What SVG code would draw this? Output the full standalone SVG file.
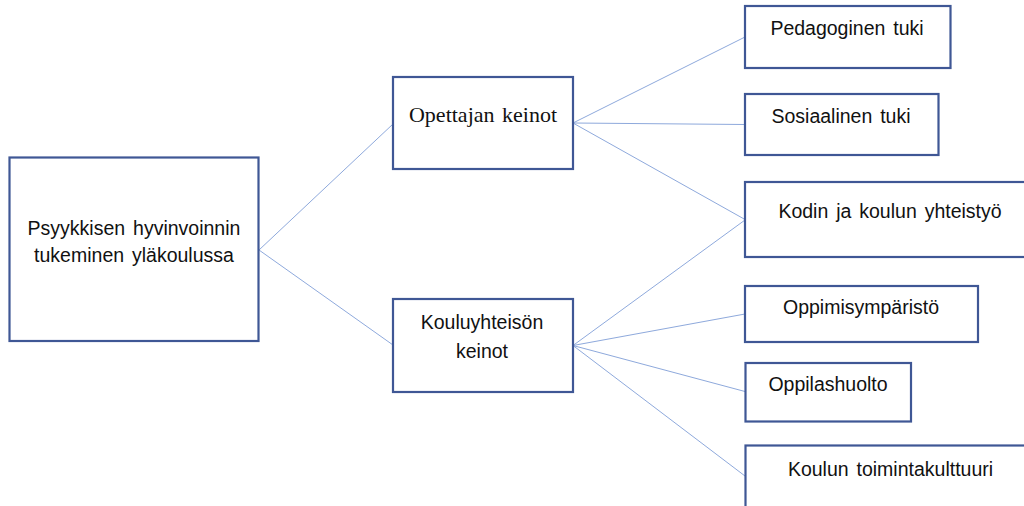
<svg xmlns="http://www.w3.org/2000/svg" width="1024" height="506" viewBox="0 0 1024 506">
<style>
.box{fill:#ffffff;stroke:#3f5795;stroke-width:2.2}
.c{stroke:#8ea9dc;stroke-width:1;fill:none}
.t{font-family:"Liberation Sans",Arial,sans-serif;font-size:19.5px;word-spacing:2.5px;fill:#111111;text-anchor:middle}
.s{font-family:"Liberation Serif","Times New Roman",serif;font-size:22px;word-spacing:2px;fill:#111111;text-anchor:middle}
</style>
<rect width="1024" height="506" fill="#ffffff"/>
<g id="connectors">
<line class="c" x1="259" y1="250" x2="393" y2="124"/>
<line class="c" x1="259" y1="250" x2="393" y2="345"/>
<line class="c" x1="573" y1="123" x2="745" y2="37"/>
<line class="c" x1="573" y1="123" x2="745" y2="124.5"/>
<line class="c" x1="573" y1="123" x2="745" y2="219.5"/>
<line class="c" x1="573" y1="345.5" x2="745" y2="220"/>
<line class="c" x1="573" y1="345.5" x2="745" y2="314"/>
<line class="c" x1="573" y1="345.5" x2="745" y2="391.5"/>
<line class="c" x1="573" y1="345.5" x2="745" y2="476"/>
</g>
<g id="root">
<rect class="box" x="9.5" y="157.5" width="249" height="183.5"/>
<text class="t" x="134" y="235">Psyykkisen hyvinvoinnin</text>
<text class="t" x="134" y="262">tukeminen yläkoulussa</text>
</g>
<g id="opettajan">
<rect class="box" x="393" y="77" width="180" height="92"/>
<text class="s" x="483" y="122">Opettajan keinot</text>
</g>
<g id="kouluyhteison">
<rect class="box" x="393" y="299" width="180" height="93"/>
<text class="t" x="482" y="329">Kouluyhteisön</text>
<text class="t" x="482" y="358">keinot</text>
</g>
<g id="pedagoginen">
<rect class="box" x="745" y="6" width="205.5" height="62"/>
<text class="t" x="847" y="35">Pedagoginen tuki</text>
</g>
<g id="sosiaalinen">
<rect class="box" x="745" y="94" width="193.5" height="61"/>
<text class="t" x="841" y="123">Sosiaalinen tuki</text>
</g>
<g id="kodin">
<rect class="box" x="745" y="182" width="290" height="75"/>
<text class="t" x="890" y="218">Kodin ja koulun yhteistyö</text>
</g>
<g id="oppimisymparisto">
<rect class="box" x="745" y="286" width="233" height="56"/>
<text class="t" x="861" y="314">Oppimisympäristö</text>
</g>
<g id="oppilashuolto">
<rect class="box" x="745.5" y="363" width="165.5" height="58.5"/>
<text class="t" x="828" y="391">Oppilashuolto</text>
</g>
<g id="koulun">
<rect class="box" x="745.5" y="445.5" width="290" height="80"/>
<text class="t" x="890.5" y="476">Koulun toimintakulttuuri</text>
</g>
</svg>
